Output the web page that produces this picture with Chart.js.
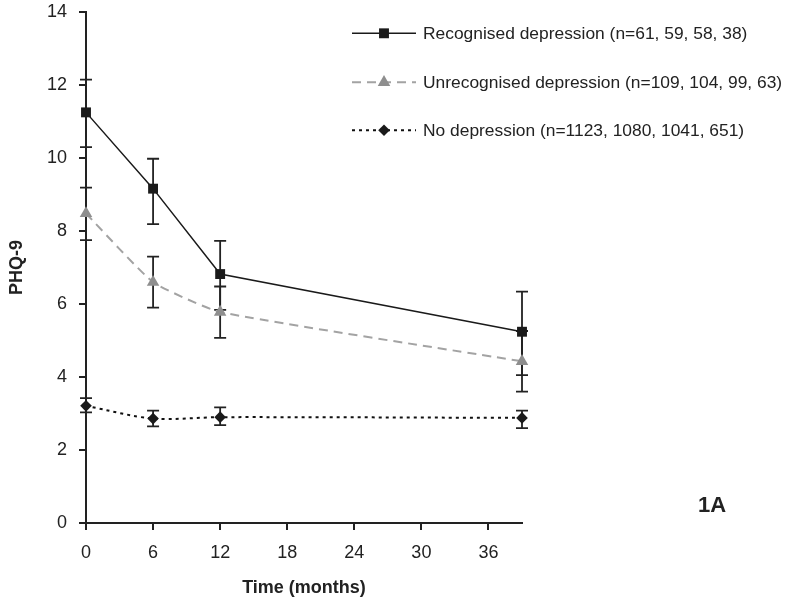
<!DOCTYPE html>
<html>
<head>
<meta charset="utf-8">
<script src="https://cdn.jsdelivr.net/npm/chart.js@4.4.1/dist/chart.umd.min.js"></script>
<style>
  html, body { margin: 0; padding: 0; background: #fff; }
  #wrap { width: 786px; height: 603px; position: relative; }
</style>
</head>
<body>
<div id="wrap"><canvas id="c" width="786" height="603"></canvas></div>
<script>
// ---- data ----
const months = [0, 6, 12, 39];
const xTicks = [0, 6, 12, 18, 24, 30, 36];
const yTicks = [0, 2, 4, 6, 8, 10, 12, 14];

const seriesLabels = [
  'Recognised depression (n=61, 59, 58, 38)',
  'Unrecognised depression (n=109, 104, 99, 63)',
  'No depression (n=1123, 1080, 1041, 651)'
];

const recognised      = [11.25, 9.16, 6.82, 5.24];
const recognisedLow   = [10.30, 8.19, 5.84, 4.05];
const recognisedHigh  = [12.15, 9.98, 7.73, 6.34];

const unrecognised     = [8.48, 6.60, 5.78, 4.43];
const unrecognisedLow  = [7.75, 5.90, 5.07, 3.60];
const unrecognisedHigh = [9.19, 7.30, 6.48, 5.26];

const noDepression     = [3.21, 2.86, 2.90, 2.88];
const noDepressionLow  = [3.03, 2.65, 2.68, 2.60];
const noDepressionHigh = [3.42, 3.08, 3.17, 3.08];

const panelLabel = '1A';
const xTitle = 'Time (months)';
const yTitle = 'PHQ-9';

// ---- build ----
const toPts = vals => vals.map((v, i) => ({ x: months[i], y: v }));
const errLow = [recognisedLow, unrecognisedLow, noDepressionLow];
const errHigh = [recognisedHigh, unrecognisedHigh, noDepressionHigh];

const TXT = '#222222';
const FONT = "'Liberation Sans', Arial, sans-serif";

const styles = [
  { line: '#1a1a1a', fill: '#1a1a1a', width: 1.5, dash: [], point: 'rect', r: 7, tension: 0 },
  { line: '#a3a3a3', fill: '#8e8e8e', width: 2, dash: [9, 6], point: 'triangle', r: 7.2, tension: 0.15 },
  { line: '#111111', fill: '#1a1a1a', width: 2, dash: [3, 4], point: 'rectRot', r: 5.8, tension: 0.3 }
];
const values = [recognised, unrecognised, noDepression];

const datasets = values.map((vals, i) => ({
  label: seriesLabels[i],
  data: toPts(vals),
  borderColor: styles[i].line,
  backgroundColor: styles[i].fill,
  borderWidth: styles[i].width,
  borderDash: styles[i].dash,
  pointStyle: styles[i].point,
  pointRadius: styles[i].r,
  pointHoverRadius: styles[i].r,
  pointBackgroundColor: styles[i].fill,
  pointBorderColor: styles[i].fill,
  pointBorderWidth: 0,
  tension: styles[i].tension,
  clip: false
}));

function drawMarker(ctx, style, x, y, r, color) {
  ctx.save();
  ctx.fillStyle = color;
  ctx.beginPath();
  if (style === 'rect') {
    const s = Math.SQRT1_2 * r;
    ctx.rect(x - s, y - s, 2 * s, 2 * s);
  } else if (style === 'triangle') {
    ctx.moveTo(x, y - r);
    ctx.lineTo(x + r * Math.sin(Math.PI / 3), y + r / 2);
    ctx.lineTo(x - r * Math.sin(Math.PI / 3), y + r / 2);
    ctx.closePath();
  } else {
    ctx.moveTo(x, y - r);
    ctx.lineTo(x + r, y);
    ctx.lineTo(x, y + r);
    ctx.lineTo(x - r, y);
    ctx.closePath();
  }
  ctx.fill();
  ctx.restore();
}

const errorBars = {
  id: 'errorBars',
  beforeDatasetsDraw(chart) {
    const { ctx, scales: { x, y } } = chart;
    ctx.save();
    ctx.strokeStyle = '#222';
    ctx.lineWidth = 1.8;
    ctx.setLineDash([]);
    errLow.forEach((lows, d) => {
      lows.forEach((lo, i) => {
        const px = x.getPixelForValue(months[i]);
        const pl = y.getPixelForValue(lo);
        const ph = y.getPixelForValue(errHigh[d][i]);
        ctx.beginPath();
        ctx.moveTo(px, pl); ctx.lineTo(px, ph);
        ctx.moveTo(px - 6, pl); ctx.lineTo(px + 6, pl);
        ctx.moveTo(px - 6, ph); ctx.lineTo(px + 6, ph);
        ctx.stroke();
      });
    });
    ctx.restore();
  }
};

const customLegend = {
  id: 'customLegend',
  afterDraw(chart) {
    const { ctx } = chart;
    const rows = [33.3, 82.3, 130.3];
    const x0 = 352, x1 = 416, xm = 384, tx = 423;
    ctx.save();
    chart.data.datasets.forEach((ds, i) => {
      const yy = rows[i];
      ctx.strokeStyle = styles[i].line;
      ctx.lineWidth = styles[i].width;
      ctx.setLineDash(styles[i].dash);
      ctx.beginPath();
      ctx.moveTo(x0, yy); ctx.lineTo(x1, yy);
      ctx.stroke();
      ctx.setLineDash([]);
      drawMarker(ctx, styles[i].point, xm, yy, styles[i].r, styles[i].fill);
      ctx.fillStyle = TXT;
      ctx.font = "17.4px " + FONT;
      ctx.textAlign = 'left';
      ctx.textBaseline = 'middle';
      ctx.fillText(ds.label, tx, yy + 0.5);
    });
    ctx.font = "bold 22px " + FONT;
    ctx.textAlign = 'center';
    ctx.textBaseline = 'middle';
    ctx.fillStyle = TXT;
    ctx.fillText(panelLabel, 712, 505.5);
    ctx.restore();
  }
};

new Chart(document.getElementById('c'), {
  type: 'line',
  data: { datasets },
  plugins: [errorBars, customLegend],
  options: {
    responsive: false,
    animation: false,
    events: [],
    layout: { padding: { top: 12, right: 264, bottom: 0, left: 0 } },
    plugins: { legend: { display: false }, tooltip: { enabled: false } },
    scales: {
      x: {
        type: 'linear',
        min: 0,
        max: 39,
        afterBuildTicks: s => { s.ticks = xTicks.map(v => ({ value: v })); },
        afterFit: s => { s.height = 80; s.paddingLeft = 0; s.paddingRight = 0; },
        border: { display: true, color: '#222', width: 2 },
        grid: { display: true, drawOnChartArea: false, drawTicks: true, tickLength: 7, color: '#222', lineWidth: 2 },
        ticks: { color: TXT, font: { family: FONT, size: 18 }, padding: 12, maxRotation: 0 },
        title: { display: true, text: xTitle, color: TXT, font: { family: FONT, size: 18, weight: 'bold' }, padding: { top: 0, bottom: 4 } }
      },
      y: {
        type: 'linear',
        min: 0,
        max: 14,
        afterBuildTicks: s => { s.ticks = yTicks.map(v => ({ value: v })); },
        afterFit: s => { s.width = 86; s.paddingTop = 0; s.paddingBottom = 0; },
        border: { display: true, color: '#222', width: 2 },
        grid: { display: true, drawOnChartArea: false, drawTicks: true, tickLength: 7, color: '#222', lineWidth: 2 },
        ticks: { color: TXT, font: { family: FONT, size: 18 }, padding: 12 },
        title: { display: true, text: yTitle, color: TXT, font: { family: FONT, size: 18, weight: 'bold' }, padding: { top: 6, bottom: 0 } }
      }
    }
  }
});
</script>
</body>
</html>
